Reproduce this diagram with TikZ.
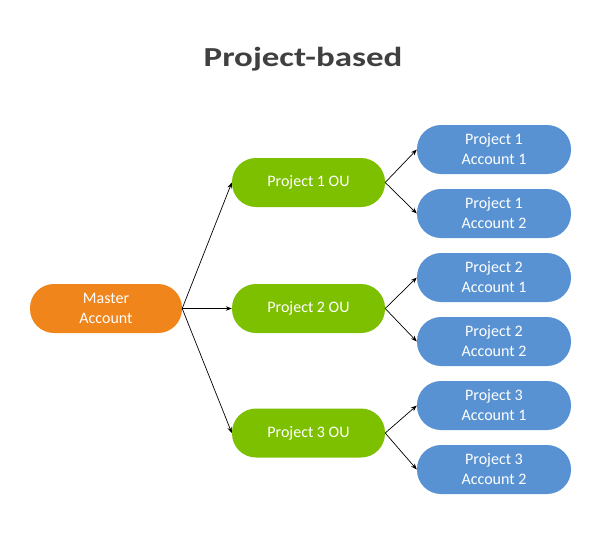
\documentclass[tikz,border=0pt]{standalone}
\usepackage{fontspec}
\setmainfont{Carlito}
\usetikzlibrary{arrows.meta}
\definecolor{orangebox}{HTML}{F0851B}
\definecolor{greenbox}{HTML}{7DC000}
\definecolor{bluebox}{HTML}{5892D2}
\definecolor{titlegray}{HTML}{404040}
\tikzset{
  pill/.style={rectangle, rounded corners=24pt, minimum width=153pt, minimum height=49pt,
    inner sep=0pt, text=white, font=\fontsize{16}{20}\selectfont, align=center},
  master/.style={pill, fill=orangebox, minimum width=152pt},
  ou/.style={pill, fill=greenbox},
  acct/.style={pill, fill=bluebox, minimum width=154pt},
  conn/.style={draw=black, line width=0.7pt, -{Stealth[length=6pt,width=4.5pt]}}
}
\begin{document}
\begin{tikzpicture}[x=1pt,y=-1pt]
\useasboundingbox (0,0) rectangle (596,550);
\fill[white] (0,0) rectangle (596,550);
\node[text=titlegray, anchor=base, inner sep=0pt, font=\fontsize{27.5}{32}\selectfont\bfseries] (title) at (303,66.5) {\scalebox{1.27}[1]{Project-based}};
\node[master] (m) at (106,308.5) {Master\\Account};
\node[ou] (o1) at (308.5,182.5) {Project 1 OU};
\node[ou] (o2) at (308.5,308.5) {Project 2 OU};
\node[ou] (o3) at (308.5,433) {Project 3 OU};
\node[acct] (a11) at (494,149.5) {Project 1\\Account 1};
\node[acct] (a12) at (494,213.5) {Project 1\\Account 2};
\node[acct] (a21) at (494,277.5) {Project 2\\Account 1};
\node[acct] (a22) at (494,341.5) {Project 2\\Account 2};
\node[acct] (a31) at (494,405.5) {Project 3\\Account 1};
\node[acct] (a32) at (494,469.5) {Project 3\\Account 2};
\foreach \o in {o1,o2,o3} \draw[conn] (m.east) -- (\o.west);
\draw[conn] (o1.east) -- (a11.west);
\draw[conn] (o1.east) -- (a12.west);
\draw[conn] (o2.east) -- (a21.west);
\draw[conn] (o2.east) -- (a22.west);
\draw[conn] (o3.east) -- (a31.west);
\draw[conn] (o3.east) -- (a32.west);
\end{tikzpicture}
\end{document}
